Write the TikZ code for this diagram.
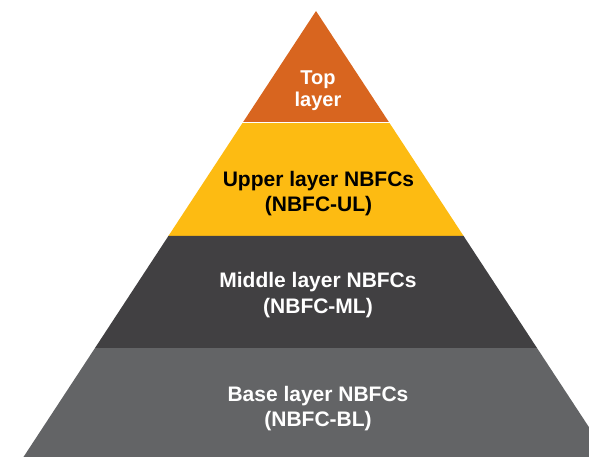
\documentclass[tikz,border=0pt]{standalone}
\usepackage{fontspec}
\setmainfont{Liberation Sans}
\definecolor{toporange}{HTML}{D8651F}
\definecolor{upperyellow}{HTML}{FDBB12}
\definecolor{middlegrey}{HTML}{414042}
\definecolor{basegrey}{HTML}{636466}
\tikzset{
  layertext/.style={inner sep=0pt, align=center,
    font=\bfseries\fontsize{21}{25.5}\selectfont},
}
\begin{document}
\begin{tikzpicture}[x=1pt,y=-1pt]
      \useasboundingbox (0,0) rectangle (589,457);
      \clip (0,0) rectangle (589,457);

      % layers, apex at (316,11)
      \fill[toporange] (316,11) -- (389.5,123) -- (242.5,123) -- cycle;
      \fill[upperyellow] (242.5,123) -- (389.5,123) -- (463.6,236) -- (168.4,236) -- cycle;
      \fill[middlegrey] (168.4,236) -- (463.6,236) -- (537,348) -- (95,348) -- cycle;
      \fill[basegrey] (95,348) -- (537,348) -- (610.5,460) -- (21.5,460) -- cycle;
      \draw[white, line width=1pt] (240,123) -- (392,123);

        \node[layertext, text=white, font=\bfseries\fontsize{20}{21.7}\selectfont] (top) at (318,90.8) {Top\\layer};
        \node[layertext, text=black] (upper) at (318.5,193.5) {Upper layer NBFCs\\(NBFC-UL)};
        \node[layertext, text=white] (middle) at (318,294.9) {Middle layer NBFCs\\(NBFC-ML)};
        \node[layertext, text=white] (base) at (318,408.8) {Base layer NBFCs\\(NBFC-BL)};

    \end{tikzpicture}
\end{document}
